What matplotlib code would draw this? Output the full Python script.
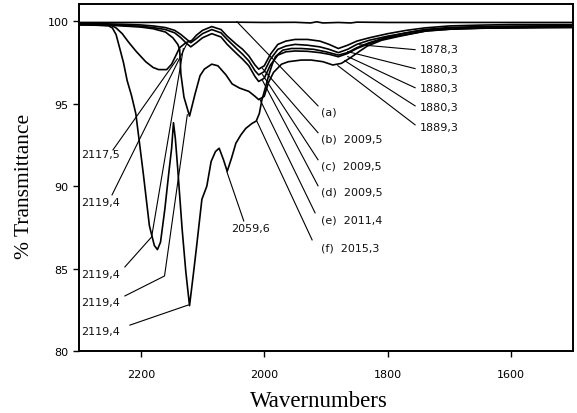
import matplotlib
matplotlib.use('Agg')
import matplotlib.pyplot as plt

# Spectra: wavenumber (cm-1) and % transmittance.
wnA = [2300, 2200, 2100, 2050, 2000, 1950, 1925, 1915, 1905, 1880, 1860,
       1850, 1800, 1700, 1600, 1500]
tA = [99.93, 99.93, 99.95, 99.95, 99.93, 99.94, 99.90, 99.97, 99.90, 99.93,
      99.90, 99.95, 99.93, 99.93, 99.93, 99.93]

wnB = [2300, 2260, 2251, 2240, 2230, 2220, 2208, 2192, 2180, 2171, 2158,
       2150, 2144, 2137, 2127, 2117, 2110, 2100, 2085, 2070, 2060, 2045,
       2035, 2025, 2015, 2009, 2000, 1990, 1978, 1965, 1950, 1930, 1910,
       1895, 1880, 1865, 1850, 1830, 1800, 1770, 1740, 1700, 1650, 1600,
       1550, 1500]
tB = [99.88, 99.86, 99.82, 99.6, 99.25, 98.75, 98.2, 97.55, 97.2, 97.07,
      97.07, 97.4, 97.86, 98.4, 98.7, 98.85, 99.15, 99.45, 99.68, 99.5,
      99.1, 98.6, 98.3, 97.9, 97.35, 97.1, 97.3, 98.0, 98.6, 98.8, 98.9,
      98.9, 98.8, 98.6, 98.35, 98.55, 98.8, 99.0, 99.25, 99.45, 99.6,
      99.72, 99.77, 99.8, 99.8, 99.8]

wnCD = [2300, 2260, 2230, 2200, 2180, 2160, 2145, 2135, 2127, 2119, 2110,
        2100, 2085, 2070, 2060, 2045, 2035, 2025, 2015, 2009, 2000, 1990,
        1978, 1965, 1950, 1930, 1910, 1895, 1880, 1865, 1850, 1830, 1800,
        1770, 1740, 1700, 1650, 1600, 1550, 1500]
tC = [99.85, 99.85, 99.82, 99.78, 99.72, 99.62, 99.45, 99.2, 98.95, 98.7,
      98.95, 99.25, 99.5, 99.3, 98.9, 98.35, 98.0, 97.6, 97.0, 96.75, 96.95,
      97.7, 98.3, 98.5, 98.6, 98.55, 98.45, 98.3, 98.1, 98.3, 98.6, 98.85,
      99.1, 99.3, 99.5, 99.62, 99.68, 99.7, 99.72, 99.73]
tD = [99.8, 99.8, 99.75, 99.7, 99.62, 99.5, 99.3, 99.0, 98.7, 98.45, 98.7,
      99.0, 99.25, 99.05, 98.6, 98.05, 97.7, 97.3, 96.65, 96.35, 96.55,
      97.35, 97.95, 98.15, 98.2, 98.18, 98.1, 98.0, 97.85, 98.05, 98.35,
      98.65, 99.0, 99.2, 99.4, 99.52, 99.58, 99.6, 99.62, 99.63]

wnE = [2300, 2260, 2230, 2200, 2180, 2160, 2148, 2140, 2137, 2135, 2130,
       2121, 2112, 2104, 2097, 2085, 2075, 2062, 2052, 2040, 2025, 2015,
       2009, 2000, 1993, 1985, 1972, 1961, 1940, 1924, 1905, 1889, 1875,
       1860, 1845, 1833, 1810, 1780, 1736, 1700, 1650, 1600, 1550, 1500]
tE = [99.8, 99.78, 99.72, 99.65, 99.55, 99.35, 99.0, 98.6, 98.3, 96.8,
      95.4, 94.25, 95.6, 96.7, 97.1, 97.4, 97.3, 96.75, 96.2, 95.95, 95.75,
      95.45, 95.25, 95.45, 96.3, 96.9, 97.4, 97.55, 97.65, 97.65, 97.55,
      97.35, 97.45, 97.8, 98.2, 98.5, 98.85, 99.1, 99.43, 99.52, 99.58,
      99.6, 99.62, 99.63]

wnF = [2300, 2270, 2252, 2246, 2240, 2235, 2228, 2222, 2215, 2208, 2204,
       2196, 2186, 2178, 2173, 2168, 2161, 2154, 2150, 2147, 2144, 2140,
       2133, 2127, 2121, 2115, 2110, 2101, 2093, 2086, 2079, 2073, 2066,
       2060, 2053, 2046, 2038, 2030, 2020, 2013, 2008, 2004, 1998, 1993,
       1987, 1982, 1970, 1956, 1940, 1920, 1900, 1880, 1865, 1850, 1830,
       1800, 1770, 1740, 1700, 1650, 1600, 1550, 1500]
tF = [99.78, 99.76, 99.72, 99.6, 99.2, 98.5, 97.5, 96.4, 95.5, 94.4, 93.2,
      90.8, 87.6, 86.4, 86.15, 86.6, 88.6, 91.0, 92.3, 93.85, 92.9, 91.0,
      87.4, 84.8, 82.75, 84.6, 86.2, 89.2, 90.0, 91.5, 92.1, 92.3, 91.6,
      90.9, 91.7, 92.6, 93.1, 93.5, 93.8, 93.95, 94.4, 95.2, 96.0, 96.7,
      97.4, 97.85, 98.25, 98.35, 98.35, 98.3, 98.15, 97.95, 98.1, 98.4,
      98.7, 99.05, 99.3, 99.48, 99.6, 99.65, 99.68, 99.7, 99.7]

# Peak labels on the left side and their leader lines (wn, %T).
leftLabels = ['2117,5', '2119,4', '2119,4', '2119,4', '2119,4']
leftLabelY = [91.96, 89.05, 84.67, 82.97, 81.21]
leftLeaders = [[(2245, 92.2), (2140.7, 97.73)],
               [(2246.5, 89.47), (2126.2, 98.58)],
               [(2225.7, 85.1), (2182.4, 86.92), (2131.0, 98.34)],
               [(2225.7, 83.34), (2161.5, 84.55), (2124.6, 94.33)],
               [(2217.6, 81.57), (2123.0, 82.79)]]

# Curve labels in the middle.
midLabels = ['(a)', '(b)  2009,5', '(c)  2009,5', '(d)  2009,5',
             '(e)  2011,4', '(f)  2015,3']
midLabelY = [94.51, 92.87, 91.23, 89.65, 88.0, 86.3]
midLeaders = [[(1912.9, 94.87), (2044.4, 99.98)],
              [(1912.9, 93.24), (2002.7, 97.13)],
              [(1912.9, 91.6), (2002.7, 96.76)],
              [(1912.9, 90.02), (2002.7, 96.4)],
              [(1917.7, 88.38), (2007.5, 95.3)],
              [(1922.5, 86.74), (2012.3, 93.97)]]

# Labels on the right side.
rightLabels = ['1878,3', '1880,3', '1880,3', '1880,3', '1889,3']
rightLabelY = [98.34, 97.13, 95.97, 94.81, 93.6]
rightLeaders = [[(1845.5, 98.58), (1755.7, 98.28)],
                [(1864.8, 98.16), (1755.7, 97.13)],
                [(1864.8, 97.86), (1755.7, 95.97)],
                [(1869.6, 97.61), (1755.7, 94.87)],
                [(1880.8, 97.31), (1755.7, 93.72)]]


def main():
    fig = plt.figure(figsize=(5.77, 4.14), dpi=100)
    ax = fig.add_axes([79/577, 62/414, 494/577, 347/414])

    for wn, t in [(wnA, tA), (wnB, tB), (wnCD, tC), (wnCD, tD),
                  (wnE, tE), (wnF, tF)]:
        ax.plot(wn, t, color='black', lw=1.2)

    txtKw = dict(fontsize=8, color='#111111', va='center')
    leadKw = dict(color='black', lw=0.8)
    for lab, y, pts in zip(leftLabels, leftLabelY, leftLeaders):
        ax.text(2297, y, lab, ha='left', **txtKw)
        ax.plot([p[0] for p in pts], [p[1] for p in pts], **leadKw)
    for lab, y, pts in zip(midLabels, midLabelY, midLeaders):
        ax.text(1908, y, lab, ha='left', **txtKw)
        ax.plot([p[0] for p in pts], [p[1] for p in pts], **leadKw)
    for lab, y, pts in zip(rightLabels, rightLabelY, rightLeaders):
        ax.text(1748, y, lab, ha='left', **txtKw)
        ax.plot([p[0] for p in pts], [p[1] for p in pts], **leadKw)
    ax.text(2054, 87.47, '2059,6', ha='left', **txtKw)
    ax.plot([2033.2, 2060.5], [87.89, 90.87], **leadKw)

    ax.set_xlim(2300, 1500)
    ax.set_ylim(80, 101.05)
    ax.set_xticks([2200, 2000, 1800, 1600])
    ax.set_yticks([80, 85, 90, 95, 100])
    ax.tick_params(direction='out', length=4, width=1, labelsize=8)
    ax.tick_params(axis='x', pad=9)
    for s in ax.spines.values():
        s.set_linewidth(1.4)

    fig.text(0.043, 0.55, '% Transmittance', rotation=90, ha='center',
             va='center', fontsize=15.5, family='Liberation Serif')
    fig.text(0.553, 0.004, 'Wavernumbers', ha='center', va='bottom',
             fontsize=16.5, family='Liberation Serif')

    fig.savefig('out.png', dpi=100)


if __name__ == "__main__":
    main()
